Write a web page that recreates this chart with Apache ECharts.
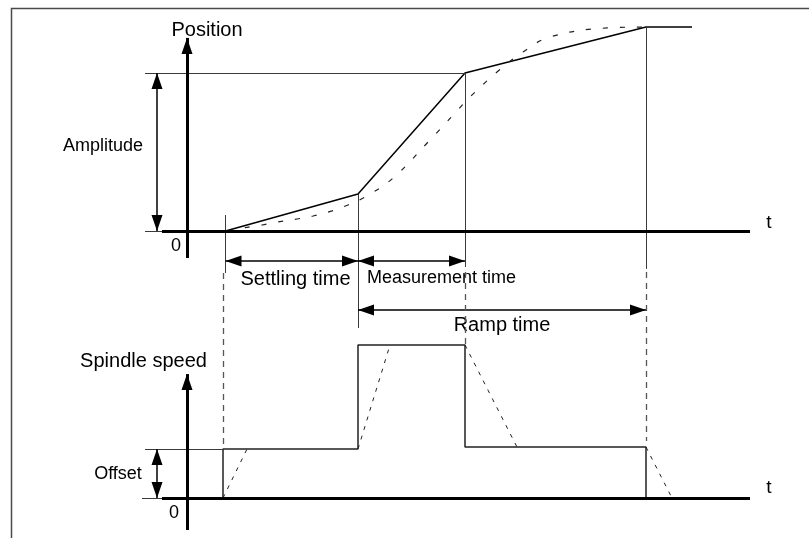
<!DOCTYPE html>
<html>
<head>
<meta charset="utf-8">
<script src="https://cdn.jsdelivr.net/npm/echarts@6/dist/echarts.min.js"></script>
<style>
  html, body { margin: 0; padding: 0; background: #fff; }
  #chart { width: 809px; height: 538px; }
</style>
</head>
<body>
<div id="chart"></div>
<script>
// time instants (shared by both panels)
const tStart = 7.7;      // start of position ramp
const tSettled = 34.2;   // end of settling time
const tMeasured = 55.6;  // end of measurement time
const tRampEnd = 91.8;   // end of ramp time

// position: commanded (solid) profile, amplitude = 100
const posT = [7.7, 34.2, 55.6, 91.8, 101];
const posCmd = [0, 23.4, 100, 129.1, 129.1];

// position: actual (smoothed, dashed) profile
const posActT = [8.2, 11.2, 15, 18.2, 22, 25.2, 29, 32.2, 35.6, 41.2, 48.6, 53.6, 56.6, 62, 67.2, 72.6, 84, 91.6];
const posAct = [0, 1.9, 3.8, 5.7, 7.6, 9.5, 12.7, 16.5, 21.5, 33.5, 57.6, 74.7, 84.8, 100.6, 113.3, 122.8, 128.5, 129.1];

// spindle speed: step profile (offset = 32, plateau = 100)
const spdT = [7.2, 7.2, 34.2, 34.2, 55.6, 55.6, 91.8, 91.8];
const spdCmd = [0, 32, 32, 100, 100, 33.3, 33.3, 0];

// spindle speed: real ramps (dashed), one segment per step
const rampT = [[7.2, 12], [34.2, 40.6], [55.6, 66], [91.8, 97]];
const rampV = [[0, 32], [32, 100], [100, 33.3], [33.3, 0]];

const amplitude = 100;
const offset = 32;

let chart = echarts.init(document.getElementById('chart'));

const black = '#000';
const guide = '#3a3a3a';
const ARROW = [11, 16];

// straight segment helper for markLine
function seg(x1, y1, x2, y2, style, s1, s2) {
  return [
    {coord: [x1, y1], symbol: s1 || 'none', symbolSize: ARROW, symbolOffset: [0, ARROW[1] / 2], lineStyle: style},
    {coord: [x2, y2], symbol: s2 || 'none', symbolSize: ARROW, symbolOffset: [0, ARROW[1] / 2]}
  ];
}
const thin = {color: guide, width: 1, type: 'solid'};
const dash = {color: '#555', width: 1.3, type: [6, 5]};
const axisStyle = {color: black, width: 3, type: 'solid'};
const dimStyle = {color: black, width: 1.5, type: 'solid'};

// upper panel guides / axes / dimension arrows
const guideT = [tStart, tSettled, tMeasured, tRampEnd];
const guideTop = [10.1, 23.4, 100, 129.1];
const guideBottom = [-26.6, -61.4, -22.8, -24];
let upperLines = [];
guideT.forEach((t, i) => upperLines.push(seg(t, guideTop[i], t, guideBottom[i], thin)));
upperLines.push(seg(-8.4, amplitude, tMeasured, amplitude, thin));
upperLines.push(seg(-8.4, 0, -5, 0, thin));
upperLines.push(seg(-5, 0, 112.6, 0, axisStyle));
upperLines.push(seg(0, -17.1, 0, 122.2, axisStyle, 'none', 'triangle'));
upperLines.push(seg(-6, 0, -6, amplitude, dimStyle, 'triangle', 'triangle'));
upperLines.push(seg(tStart, -19, tSettled, -19, dimStyle, 'triangle', 'triangle'));
upperLines.push(seg(tSettled, -19, tMeasured, -19, dimStyle, 'triangle', 'triangle'));
upperLines.push(seg(tSettled, -50, tRampEnd, -50, dimStyle, 'triangle', 'triangle'));

// lower panel
const dashT = [7.2, tMeasured, tRampEnd];
const dashTop = [147, 147.7, 147.7];
const dashBottom = [34.6, 100, 37.3];
let lowerLines = [];
dashT.forEach((t, i) => lowerLines.push(seg(t, dashTop[i], t, dashBottom[i], dash)));
lowerLines.push(seg(-8.4, offset, 7.2, offset, thin));
lowerLines.push(seg(-9, 0, -5, 0, thin));
lowerLines.push(seg(-5, 0, 112.6, 0, axisStyle));
lowerLines.push(seg(0, -20.9, 0, 81, axisStyle, 'none', 'triangle'));
lowerLines.push(seg(-6, 0, -6, offset, dimStyle, 'triangle', 'triangle'));

let rampData = [];
rampT.forEach((ts, i) => {
  rampData.push([ts[0], rampV[i][0]], [ts[1], rampV[i][1]]);
  if (i < rampT.length - 1) rampData.push(['-', '-']);
});

const font = 'Liberation Sans, Arial, sans-serif';
function label(text, x, y, size, align) {
  return {
    type: 'text', x: x, y: y, silent: true,
    style: {text: text, fill: '#000', font: size + 'px ' + font, textAlign: align || 'center', textVerticalAlign: 'middle'}
  };
}

chart.setOption({
  animation: false,
  grid: {left: 12, right: 12, top: 9.8, bottom: 6.8},
  xAxis: {type: 'value', min: -35, max: 122, show: false},
  yAxis: [
    {type: 'value', min: -190, max: 140, show: false},
    {type: 'value', min: -21.7, max: 319.08, show: false}
  ],
  graphic: [
    {type: 'polyline', silent: true, shape: {points: [[11.5, 538], [11.5, 8.5], [809, 8.5]]}, style: {stroke: '#4a4a4a', lineWidth: 1.5, fill: null}},
    label('Position', 207, 30, 20),
    label('Amplitude', 103, 146, 18),
    label('0', 176, 246, 18),
    label('t', 769, 223, 19),
    label('Settling time', 295.5, 279, 20),
    label('Measurement time', 367, 278, 18, 'left'),
    label('Ramp time', 502, 325, 20),
    label('Spindle speed', 143.5, 361, 20),
    label('Offset', 118, 474, 18),
    label('0', 174, 513, 18),
    label('t', 769, 488, 19)
  ],
  series: [
    {
      name: 'Position',
      type: 'line',
      yAxisIndex: 0,
      data: posT.map((t, i) => [t, posCmd[i]]),
      symbol: 'none',
      clip: false,
      lineStyle: {color: black, width: 1.5},
      silent: true,
      markLine: {silent: true, symbol: 'none', label: {show: false}, animation: false, data: upperLines}
    },
    {
      name: 'Position (actual)',
      type: 'line',
      yAxisIndex: 0,
      data: posActT.map((t, i) => [t, posAct[i]]),
      symbol: 'none',
      smooth: 0.4,
      clip: false,
      lineStyle: {color: '#222', width: 1.2, type: [5, 12]},
      silent: true
    },
    {
      name: 'Spindle speed',
      type: 'line',
      yAxisIndex: 1,
      data: spdT.map((t, i) => [t, spdCmd[i]]),
      symbol: 'none',
      clip: false,
      lineStyle: {color: '#222', width: 1.5},
      silent: true,
      markLine: {silent: true, symbol: 'none', label: {show: false}, animation: false, data: lowerLines}
    },
    {
      name: 'Spindle speed (actual)',
      type: 'line',
      yAxisIndex: 1,
      data: rampData,
      symbol: 'none',
      clip: false,
      connectNulls: false,
      lineStyle: {color: '#222', width: 1, type: [4, 6]},
      silent: true
    }
  ]
});
</script>
</body>
</html>
